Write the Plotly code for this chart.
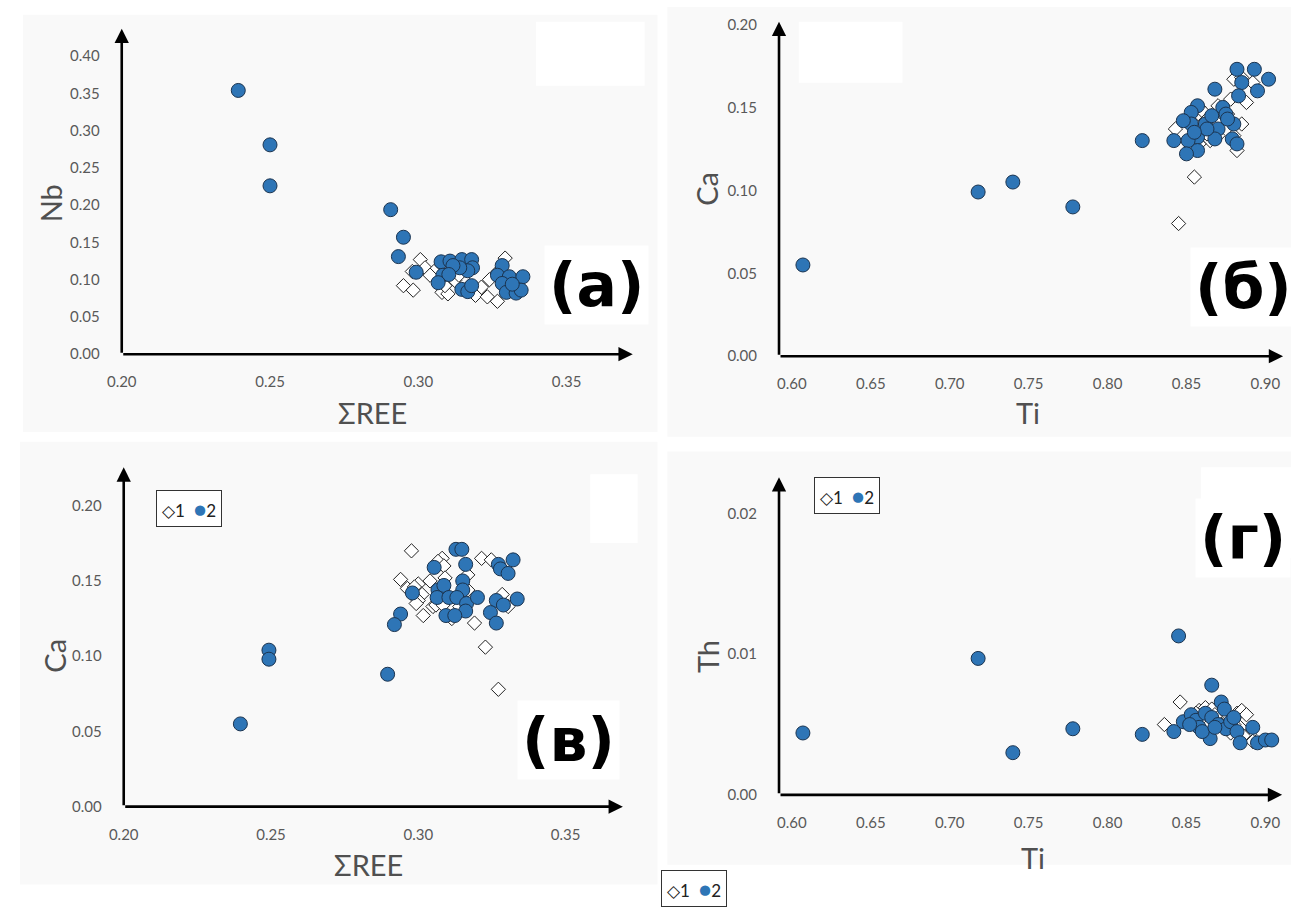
import plotly.graph_objects as go

W, H = 1291, 915

# ---------------- data ----------------
# (a) Nb vs ΣREE
a_s1_ree = [0.3007, 0.2980, 0.3023, 0.3053, 0.2950, 0.2983, 0.3040, 0.3080, 0.3100, 0.3123, 0.3137,
            0.3173, 0.3193, 0.3213, 0.3233, 0.3267, 0.3240, 0.3293, 0.3267, 0.3320, 0.3307, 0.3090]
a_s1_nb = [0.127, 0.111, 0.116, 0.111, 0.092, 0.086, 0.106, 0.083, 0.081, 0.099, 0.106,
           0.092, 0.079, 0.090, 0.077, 0.071, 0.100, 0.129, 0.110, 0.092, 0.099, 0.092]
a_s2_ree = [0.2393, 0.2500, 0.2500, 0.2907, 0.2950, 0.2933, 0.2993, 0.3077, 0.3107, 0.3147, 0.3180,
            0.3183, 0.3167, 0.3140, 0.3117, 0.3083, 0.3103, 0.3067, 0.3147, 0.3167, 0.3180, 0.3283,
            0.3267, 0.3307, 0.3353, 0.3283, 0.3297, 0.3330, 0.3347, 0.3317]
a_s2_nb = [0.354, 0.281, 0.226, 0.194, 0.157, 0.131, 0.110, 0.124, 0.125, 0.127, 0.127,
           0.116, 0.112, 0.116, 0.119, 0.106, 0.107, 0.096, 0.087, 0.084, 0.092, 0.119,
           0.106, 0.104, 0.104, 0.095, 0.083, 0.082, 0.086, 0.094]

# (б) Ca vs Ti
b_s1_ti = [0.880, 0.885, 0.888, 0.892, 0.878, 0.870, 0.858, 0.860, 0.866, 0.862, 0.860, 0.865, 0.870,
           0.873, 0.882, 0.880, 0.885, 0.858, 0.843, 0.855, 0.845, 0.863, 0.852, 0.856, 0.876, 0.869]
b_s1_ca = [0.167, 0.168, 0.153, 0.165, 0.155, 0.151, 0.150, 0.148, 0.145, 0.142, 0.135, 0.130, 0.133,
           0.143, 0.124, 0.133, 0.140, 0.128, 0.137, 0.108, 0.080, 0.134, 0.145, 0.139, 0.146, 0.141]
b_s2_ti = [0.607, 0.718, 0.740, 0.778, 0.822, 0.882, 0.893, 0.885, 0.902, 0.895, 0.883, 0.868, 0.873,
           0.875, 0.857, 0.853, 0.853, 0.862, 0.848, 0.866, 0.870, 0.868, 0.857, 0.851, 0.857, 0.850,
           0.842, 0.879, 0.880, 0.876, 0.863, 0.855, 0.882]
b_s2_ca = [0.055, 0.099, 0.105, 0.090, 0.130, 0.173, 0.173, 0.165, 0.167, 0.160, 0.157, 0.161, 0.150,
           0.146, 0.151, 0.147, 0.140, 0.140, 0.142, 0.145, 0.137, 0.131, 0.132, 0.130, 0.124, 0.122,
           0.130, 0.131, 0.140, 0.143, 0.137, 0.135, 0.128]

# (в) Ca vs ΣREE
c_s1_ree = [0.2977, 0.3081, 0.3067, 0.3087, 0.3215, 0.3248, 0.2940, 0.3040, 0.3091, 0.2963, 0.3000,
            0.2987, 0.3013, 0.3000, 0.2993, 0.3168, 0.3168, 0.3050, 0.3060, 0.3017, 0.3114, 0.3191,
            0.3285, 0.3305, 0.3228, 0.3272, 0.3084, 0.3141]
c_s1_ca = [0.170, 0.165, 0.163, 0.160, 0.165, 0.164, 0.151, 0.150, 0.152, 0.145, 0.148,
           0.146, 0.141, 0.137, 0.135, 0.154, 0.144, 0.133, 0.134, 0.127, 0.125, 0.122,
           0.141, 0.133, 0.106, 0.078, 0.134, 0.133]
c_s2_ree = [0.2396, 0.2493, 0.2493, 0.2896, 0.3128, 0.3148, 0.3161, 0.3054, 0.3272, 0.3279, 0.3305,
            0.3322, 0.3151, 0.3151, 0.3067, 0.3087, 0.2980, 0.3064, 0.3104, 0.3131, 0.3164, 0.3161,
            0.3201, 0.3265, 0.3289, 0.3336, 0.3245, 0.3265, 0.3094, 0.3124, 0.2940, 0.2919]
c_s2_ca = [0.055, 0.104, 0.098, 0.088, 0.171, 0.171, 0.161, 0.159, 0.161, 0.158, 0.155,
           0.164, 0.150, 0.144, 0.144, 0.147, 0.142, 0.139, 0.139, 0.139, 0.135, 0.130,
           0.139, 0.137, 0.134, 0.138, 0.129, 0.122, 0.127, 0.127, 0.128, 0.121]

# (г) Th vs Ti
d_s1_ti = [0.836, 0.846, 0.858, 0.862, 0.864, 0.866, 0.868, 0.870, 0.874, 0.876, 0.880, 0.882,
           0.885, 0.888, 0.890, 0.884, 0.878, 0.872, 0.860, 0.856, 0.892, 0.886, 0.880, 0.868]
d_s1_th = [0.0050, 0.0066, 0.0060, 0.0062, 0.0058, 0.0061, 0.0057, 0.0055, 0.0052, 0.0057, 0.0054, 0.0058,
           0.0060, 0.0057, 0.0043, 0.0048, 0.0044, 0.0050, 0.0055, 0.0058, 0.0038, 0.0042, 0.0050, 0.0052]
d_s2_ti = [0.607, 0.718, 0.740, 0.778, 0.822, 0.845, 0.866, 0.872, 0.842, 0.848, 0.853, 0.856, 0.858,
           0.862, 0.866, 0.870, 0.865, 0.875, 0.878, 0.882, 0.884, 0.892, 0.895, 0.900, 0.904, 0.852,
           0.860, 0.868, 0.874, 0.880]
d_s2_th = [0.0044, 0.0097, 0.0030, 0.0047, 0.0043, 0.0113, 0.0078, 0.0066, 0.0045, 0.0052, 0.0057, 0.0053,
           0.0048, 0.0058, 0.0055, 0.0050, 0.0040, 0.0047, 0.0052, 0.0045, 0.0037, 0.0048, 0.0037, 0.0039,
           0.0039, 0.0050, 0.0045, 0.0048, 0.0061, 0.0055]

ree_ticks = [0.20, 0.25, 0.30, 0.35]
nb_ticks = [0.00, 0.05, 0.10, 0.15, 0.20, 0.25, 0.30, 0.35, 0.40]
ti_ticks = [0.60, 0.65, 0.70, 0.75, 0.80, 0.85, 0.90]
ca_ticks = [0.00, 0.05, 0.10, 0.15, 0.20]
th_ticks = [0.00, 0.01, 0.02]

series_names = ["1", "2"]
panel_labels = ["(а)", "(б)", "(в)", "(г)"]

# ---------------- layout helpers ----------------
def fx(px):
    return px / W

def fy(py):
    return 1 - py / H

panels = [
    dict(x0=108, x1=625, y0=353, y1=22, xr=[0.20, 0.20 + (625 - 108) / 3000],
         yr=[0.0, (353 - 22) / 757.5]),
    dict(x0=773, x1=1283, y0=355, y1=15, xr=[0.60 - 13 / 1597, 0.60 + (1283 - 786) / 1597],
         yr=[0.0, (355 - 15) / 1686]),
    dict(x0=110, x1=615, y0=813, y1=468, xr=[0.20, 0.20 + (615 - 110) / 2980],
         yr=[0.0, (813 - 468) / 1530]),
    dict(x0=773, x1=1282, y0=801, y1=478, xr=[0.60 - 13 / 1597, 0.60 + (1282 - 786) / 1597],
         yr=[0.0, (801 - 478) / 14300]),
]

data = [
    (a_s1_ree, a_s1_nb, a_s2_ree, a_s2_nb),
    (b_s1_ti, b_s1_ca, b_s2_ti, b_s2_ca),
    (c_s1_ree, c_s1_ca, c_s2_ree, c_s2_ca),
    (d_s1_ti, d_s1_th, d_s2_ti, d_s2_th),
]

fig = go.Figure()
tick_font = dict(family="Lato, Open Sans, sans-serif", size=15, color="#595959")
title_font = dict(family="Lato, Open Sans, sans-serif", size=29, color="#505050")

xticks = [ree_ticks, ti_ticks, ree_ticks, ti_ticks]
yticks = [nb_ticks, ca_ticks, ca_ticks, th_ticks]

for i, (p, d) in enumerate(zip(panels, data)):
    n = "" if i == 0 else str(i + 1)
    xa, ya = "x" + n, "y" + n
    fig.add_trace(go.Scatter(x=d[0], y=d[1], mode="markers", name=series_names[0], showlegend=False,
                             xaxis=xa, yaxis=ya, cliponaxis=False,
                             marker=dict(symbol="diamond", size=11, color="white",
                                         line=dict(color="#222222", width=1))))
    fig.add_trace(go.Scatter(x=d[2], y=d[3], mode="markers", name=series_names[1], showlegend=False,
                             xaxis=xa, yaxis=ya, cliponaxis=False,
                             marker=dict(symbol="circle", size=14, color="#2e75b6",
                                         line=dict(color="#1b3450", width=1))))
    fig.layout["xaxis" + n] = dict(domain=[fx(p["x0"]), fx(p["x1"])], range=p["xr"], anchor=ya,
                                   showgrid=False, zeroline=False, showline=False,
                                   tickvals=xticks[i], tickformat=".2f", ticks="outside",
                                   ticklen=14, tickcolor="rgba(0,0,0,0)", tickfont=tick_font)
    fig.layout["yaxis" + n] = dict(domain=[fy(p["y0"]), fy(p["y1"])], range=p["yr"], anchor=xa,
                                   showgrid=False, zeroline=False, showline=False,
                                   tickvals=yticks[i], tickformat=".2f", ticks="outside",
                                   ticklen=18, tickcolor="rgba(0,0,0,0)", tickfont=tick_font)
    # axis arrows
    fig.add_annotation(x=p["xr"][1], y=p["yr"][0], ax=p["xr"][0], ay=p["yr"][0], xref=xa, yref=ya,
                       axref=xa, ayref=ya, text="", showarrow=True, arrowhead=2, arrowsize=1.1,
                       arrowwidth=2.6, arrowcolor="black")
    fig.add_annotation(x=p["xr"][0], y=p["yr"][1], ax=p["xr"][0], ay=p["yr"][0], xref=xa, yref=ya,
                       axref=xa, ayref=ya, text="", showarrow=True, arrowhead=2, arrowsize=1.1,
                       arrowwidth=2.6, arrowcolor="black")

# panel backgrounds and white boxes
shapes = []
for (x0, y0, x1, y1) in [(8, 8, 650, 432), (660, 0, 1291, 437), (5, 442, 650, 892), (660, 452, 1291, 872)]:
    shapes.append(dict(type="rect", xref="paper", yref="paper", x0=fx(x0), x1=fx(x1), y0=fy(y1), y1=fy(y0),
                       fillcolor="#f9f9f9", line=dict(width=0), layer="below"))
for (x0, y0, x1, y1) in [(527, 15, 637, 80), (793, 15, 898, 77), (582, 475, 630, 545), (1200, 468, 1291, 560)]:
    shapes.append(dict(type="rect", xref="paper", yref="paper", x0=fx(x0), x1=fx(x1), y0=fy(y1), y1=fy(y0),
                       fillcolor="#ffffff", line=dict(width=0), layer="below"))
fig.update_layout(shapes=shapes)

# axis titles
titles = [("Nb", 36, 200, -90), ("ΣREE", 362, 412, 0), ("Ca", 700, 185, -90), ("Ti", 1025, 412, 0),
          ("Ca", 40, 660, -90), ("ΣREE", 358, 872, 0), ("Th", 700, 660, -90), ("Ti", 1030, 865, 0)]
for t, x, y, ang in titles:
    fig.add_annotation(x=fx(x), y=fy(y), xref="paper", yref="paper", text=t, showarrow=False,
                       textangle=ang, font=title_font, xanchor="center", yanchor="middle")

# panel labels
for t, x, y in zip(panel_labels, [588, 1243, 560, 1242], [283, 285, 745, 540]):
    fig.add_annotation(x=fx(x), y=fy(y), xref="paper", yref="paper", text="<b>" + t + "</b>",
                       showarrow=False, bgcolor="white", borderpad=4,
                       font=dict(family="DejaVu Sans, Verdana, sans-serif", size=60, color="black"),
                       xanchor="center", yanchor="middle")

# legends
leg_text = ("◇" + series_names[0] + "  <span style='color:#2e75b6;font-size:21px'>●</span>"
            + series_names[1])
for x, y in [(176, 510), (842, 497), (687, 896)]:
    fig.add_annotation(x=fx(x), y=fy(y), xref="paper", yref="paper", text=leg_text, showarrow=False,
                       bgcolor="white", bordercolor="#333333", borderwidth=1, borderpad=5,
                       font=dict(family="Lato, DejaVu Sans, sans-serif", size=17, color="#222222"),
                       xanchor="center", yanchor="middle")

fig.update_layout(width=W, height=H, margin=dict(l=0, r=0, t=0, b=0),
                  paper_bgcolor="white", plot_bgcolor="rgba(0,0,0,0)", showlegend=False)

fig.write_html("out.html")
